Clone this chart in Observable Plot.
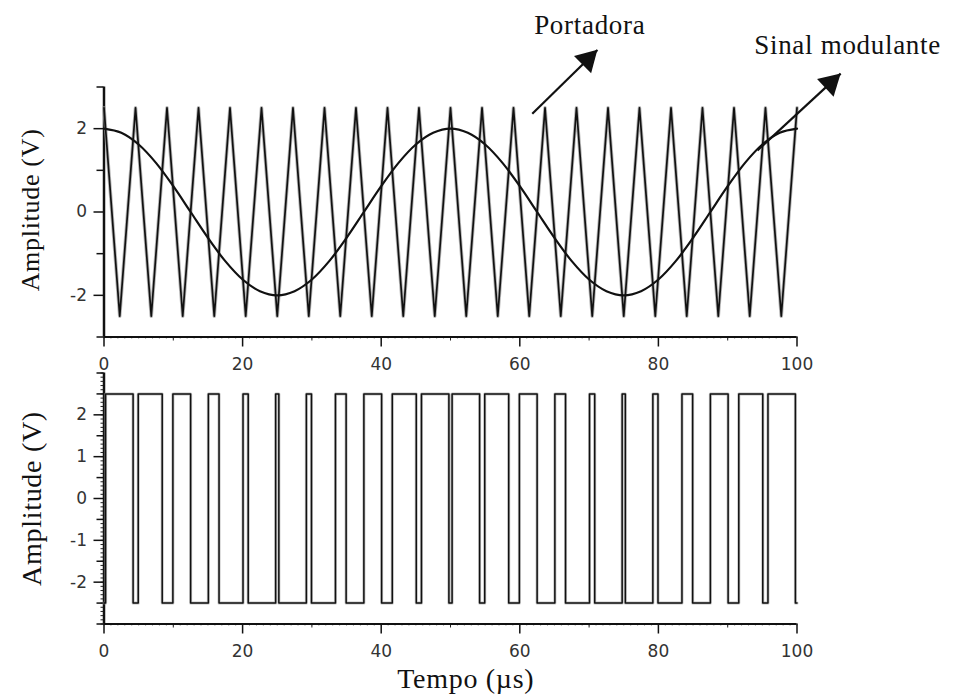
<!DOCTYPE html>
<html>
<head>
<meta charset="utf-8">
<script src="https://cdn.jsdelivr.net/npm/d3@7"></script>
<script src="https://cdn.jsdelivr.net/npm/@observablehq/plot@0.6"></script>
<style>
  html, body { margin: 0; padding: 0; background: #fff; }
  #wrap { position: relative; width: 957px; height: 700px; overflow: hidden; }
  #topPanel, #bottomPanel { position: absolute; left: 0; }
  #topPanel { top: 0; }
  #bottomPanel { top: 360px; }
  svg g[font-family="Liberation Serif"] text { letter-spacing: 0.7px; }
</style>
</head>
<body>
<div id="wrap"><div id="topPanel"></div><div id="bottomPanel"></div></div>
<script>
// Carrier (triangle) vertices, μs and V
const carrierT = [0, 2.27, 4.55, 6.82, 9.09, 11.36, 13.64, 15.91, 18.18, 20.45, 22.73, 25.0, 27.27, 29.55, 31.82, 34.09, 36.36, 38.64, 40.91, 43.18, 45.45, 47.73, 50.0, 52.27, 54.55, 56.82, 59.09, 61.36, 63.64, 65.91, 68.18, 70.45, 72.73, 75.0, 77.27, 79.55, 81.82, 84.09, 86.36, 88.64, 90.91, 93.18, 95.45, 97.73, 100];
const carrierV = [2.5, -2.5, 2.5, -2.5, 2.5, -2.5, 2.5, -2.5, 2.5, -2.5, 2.5, -2.5, 2.5, -2.5, 2.5, -2.5, 2.5, -2.5, 2.5, -2.5, 2.5, -2.5, 2.5, -2.5, 2.5, -2.5, 2.5, -2.5, 2.5, -2.5, 2.5, -2.5, 2.5, -2.5, 2.5, -2.5, 2.5, -2.5, 2.5, -2.5, 2.5, -2.5, 2.5, -2.5, 2.5];

// Modulating signal samples
const sineT = [0, 2.5, 5, 7.5, 10, 12.5, 15, 17.5, 20, 22.5, 25, 27.5, 30, 32.5, 35, 37.5, 40, 42.5, 45, 47.5, 50, 52.5, 55, 57.5, 60, 62.5, 65, 67.5, 70, 72.5, 75, 77.5, 80, 82.5, 85, 87.5, 90, 92.5, 95, 97.5, 100];
const sineV = [2.0, 1.9, 1.62, 1.18, 0.62, 0, -0.62, -1.18, -1.62, -1.9, -2.0, -1.9, -1.62, -1.18, -0.62, 0, 0.62, 1.18, 1.62, 1.9, 2.0, 1.9, 1.62, 1.18, 0.62, 0, -0.62, -1.18, -1.62, -1.9, -2.0, -1.9, -1.62, -1.18, -0.62, 0, 0.62, 1.18, 1.62, 1.9, 2.0];

// PWM output transitions (step-after)
const pwmT = [0, 0.23, 4.20, 4.94, 8.40, 9.94, 12.50, 15.06, 16.60, 20.06, 20.81, 24.77, 25.23, 29.20, 29.94, 33.40, 34.94, 37.50, 40.06, 41.60, 45.06, 45.81, 49.77, 50.23, 54.20, 54.94, 58.40, 59.94, 62.50, 65.06, 66.60, 70.06, 70.81, 74.77, 75.23, 79.20, 79.94, 83.40, 84.94, 87.50, 90.06, 91.60, 95.06, 95.81, 99.77, 100];
const pwmV = [-2.5, 2.5, -2.5, 2.5, -2.5, 2.5, -2.5, 2.5, -2.5, 2.5, -2.5, 2.5, -2.5, 2.5, -2.5, 2.5, -2.5, 2.5, -2.5, 2.5, -2.5, 2.5, -2.5, 2.5, -2.5, 2.5, -2.5, 2.5, -2.5, 2.5, -2.5, 2.5, -2.5, 2.5, -2.5, 2.5, -2.5, 2.5, -2.5, 2.5, -2.5, 2.5, -2.5, 2.5, -2.5, -2.5];

// Axis ticks
const xMajor = [0, 20, 40, 60, 80, 100];
const xMinor = [10, 30, 50, 70, 90];
const xFine = d3.range(0, 101, 1);
const yTopMajor = [-2, 0, 2];
const yTopMinor = [-3, -1, 1, 3];
const yBotMajor = [-2, -1, 0, 1, 2];
const yBotHalf = [-2.5, -1.5, -0.5, 0.5, 1.5, 2.5, -3, 3];
const yBotFine = d3.range(-30, 31, 1).map(d => d / 10);

// Annotations
const annotLabels = ["Portadora", "Sinal modulante"];
const annotTextX = [70.1, 107.3];
const annotTextY = [4.48, 4.0];
const annotTail = [[61.8, 2.36], [94.3, 1.48]];
const annotTip = [[71.2, 3.89], [106.3, 3.32]];

const carrier = carrierT.map((t, i) => ({t, v: carrierV[i]}));
const sine = sineT.map((t, i) => ({t, v: sineV[i]}));
const pwm = pwmT.map((t, i) => ({t, v: pwmV[i]}));

const serif = "Liberation Serif";
const sans = "DejaVu Sans";
const fmt = d => String(d);

function axes(yMajor, yMinor, yFine) {
  const m = [
    Plot.axisX(xFine, {tickSize: 2, tickFormat: () => "", stroke: "#777", label: null}),
    Plot.axisX(xMinor, {tickSize: 4, tickFormat: () => "", stroke: "#222", label: null}),
    Plot.axisX(xMajor, {tickSize: 10, tickPadding: 11, tickFormat: fmt, fontSize: 17, fontFamily: sans, color: "#333", stroke: "#111", strokeWidth: 1.5, label: null}),
    Plot.axisY(yMinor, {tickSize: 7, tickFormat: () => "", stroke: "#111", strokeWidth: 1.5, label: null}),
    Plot.axisY(yMajor, {tickSize: 10, tickPadding: 7, tickFormat: fmt, fontSize: 17, fontFamily: sans, color: "#333", stroke: "#111", strokeWidth: 1.5, label: null}),
    Plot.ruleY([-3], {stroke: "#111", strokeWidth: 2}),
    Plot.ruleX([0], {stroke: "#111", strokeWidth: 2.5})
  ];
  if (yFine) m.unshift(Plot.axisY(yFine, {tickSize: 3, tickFormat: () => "", stroke: "#222", label: null}));
  return m;
}

const u1 = [0.713, -0.702], u2 = [0.736, -0.678];

const topPlot = Plot.plot({
  width: 957, height: 380,
  marginTop: 86.5, marginBottom: 43.5, marginLeft: 103.5, marginRight: 160.5,
  style: {background: "transparent", overflow: "visible"},
  x: {domain: [0, 100], label: null},
  y: {domain: [-3, 3], label: null},
  marks: [
    ...axes(yTopMajor, yTopMinor, null),
    Plot.line(carrier, {x: "t", y: "v", stroke: "#999", strokeWidth: 3.5, strokeOpacity: 0.7}),
    Plot.line(carrier, {x: "t", y: "v", stroke: "#111", strokeWidth: 1.7}),
    Plot.line(sine, {x: "t", y: "v", stroke: "#111", strokeWidth: 2.2, curve: "catmull-rom"}),
    Plot.text(["Amplitude (V)"], {frameAnchor: "left", y: 0.05, text: d => d, rotate: -90, textAnchor: "middle", dx: -73, fontFamily: serif, fontSize: 26, fill: "#111"}),
    Plot.text(annotLabels, {x: (d, i) => annotTextX[i], y: (d, i) => annotTextY[i], text: d => d, fontFamily: serif, fontSize: 27, fill: "#111"}),
    Plot.link([0, 1], {x1: i => annotTail[i][0], y1: i => annotTail[i][1], x2: i => annotTip[i][0], y2: i => annotTip[i][1], stroke: "#111", strokeWidth: 2.2}),
    Plot.dot([annotTip[0]], {x: d => d[0], y: d => d[1], symbol: "triangle", r: 9, fill: "#111", stroke: "none", rotate: 45, dx: -13.9 * u1[0], dy: -13.9 * u1[1]}),
    Plot.dot([annotTip[1]], {x: d => d[0], y: d => d[1], symbol: "triangle", r: 9, fill: "#111", stroke: "none", rotate: 47, dx: -13.9 * u2[0], dy: -13.9 * u2[1]})
  ]
});
document.getElementById("topPanel").append(topPlot);

const bottomPlot = Plot.plot({
  width: 957, height: 340,
  marginTop: 12.5, marginBottom: 76.5, marginLeft: 103.5, marginRight: 160.5,
  style: {background: "transparent", overflow: "visible"},
  x: {domain: [0, 100], label: null},
  y: {domain: [-3, 3], label: null},
  marks: [
    ...axes(yBotMajor, yBotHalf, yBotFine),
    Plot.line(pwm, {x: "t", y: "v", stroke: "#999", strokeWidth: 3, strokeOpacity: 0.6, curve: "step-after"}),
    Plot.line(pwm, {x: "t", y: "v", stroke: "#111", strokeWidth: 1.5, curve: "step-after"}),
    Plot.text(["Amplitude (V)"], {frameAnchor: "left", y: 0, text: d => d, rotate: -90, textAnchor: "middle", dx: -72, fontFamily: serif, fontSize: 28, fill: "#111"}),
    Plot.text(["Tempo (µs)"], {frameAnchor: "bottom", x: 52.2, text: d => d, dy: 64, fontFamily: serif, fontSize: 28, fill: "#111"})
  ]
});
document.getElementById("bottomPanel").append(bottomPlot);
</script>
</body>
</html>
